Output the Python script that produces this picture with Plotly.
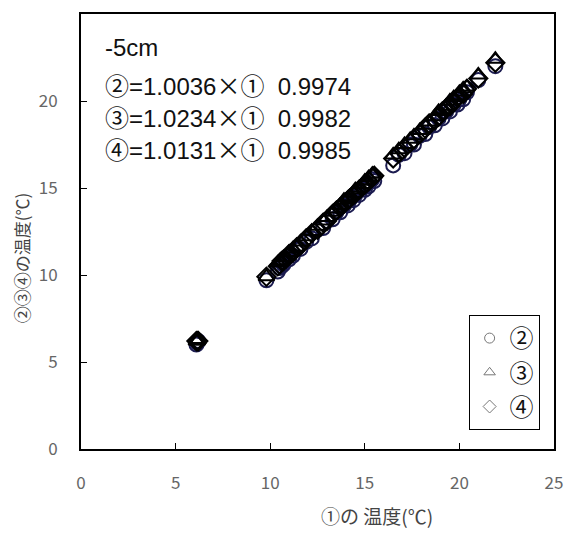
import plotly.graph_objects as go

# ① temperature (x) and ②③④ temperatures (y)
t1 = [6.1, 6.2, 6.15, 9.8, 10.4, 10.5, 10.6, 10.7, 10.8, 11.0, 11.2, 11.4, 11.6, 11.9, 12.2, 12.5,
      12.8, 13.0, 13.3, 13.5, 13.7, 13.9, 14.1, 14.2, 14.4, 14.5, 14.7, 14.9, 15.0, 15.1, 15.2, 15.4,
      15.5, 16.5, 16.8, 17.1, 17.4, 17.6, 17.9, 18.2, 18.4, 18.7, 18.9, 19.1, 19.3, 19.5, 19.7, 19.9,
      20.0, 20.2, 20.4, 21.0, 21.9]
t2 = [6.0, 6.2, 6.1, 9.7, 10.2, 10.4, 10.5, 10.6, 10.9, 10.9, 11.1, 11.5, 11.5, 11.9, 12.1, 12.6,
      12.7, 13.1, 13.2, 13.6, 13.6, 14.0, 14.0, 14.3, 14.3, 14.6, 14.6, 15.0, 14.9, 15.2, 15.1, 15.5,
      15.4, 16.3, 16.9, 17.0, 17.5, 17.5, 18.0, 18.1, 18.5, 18.6, 19.0, 19.0, 19.4, 19.4, 19.8, 19.8,
      20.1, 20.1, 20.5, 21.2, 22.0]
t3 = [6.2, 6.3, 6.2, 9.9, 10.7, 10.8, 10.8, 11.0, 11.0, 11.3, 11.5, 11.6, 11.9, 12.2, 12.5, 12.8,
      13.1, 13.3, 13.6, 13.8, 14.0, 14.3, 14.4, 14.5, 14.7, 14.9, 15.0, 15.2, 15.4, 15.4, 15.6, 15.8,
      15.8, 16.9, 17.2, 17.5, 17.8, 18.0, 18.3, 18.6, 18.8, 19.1, 19.4, 19.5, 19.7, 20.0, 20.2, 20.3,
      20.5, 20.7, 20.8, 21.5, 22.4]
t4 = [6.2, 6.2, 6.2, 9.9, 10.5, 10.6, 10.8, 10.8, 10.9, 11.2, 11.3, 11.6, 11.7, 12.1, 12.4, 12.6,
      13.0, 13.1, 13.5, 13.7, 13.9, 14.1, 14.3, 14.4, 14.6, 14.7, 14.9, 15.1, 15.2, 15.3, 15.4, 15.6,
      15.7, 16.7, 17.0, 17.3, 17.6, 17.8, 18.1, 18.4, 18.7, 18.9, 19.1, 19.4, 19.6, 19.7, 20.0, 20.2,
      20.3, 20.4, 20.7, 21.3, 22.2]

series_names = ["②", "③", "④"]
series_symbols = ["circle-open", "triangle-up-open", "diamond-open"]
series_colors = ["#1c1c50", "#000000", "#000000"]
series_values = [t2, t3, t4]

text_lines = ["-5cm", "②=1.0036×①  0.9974", "③=1.0234×①  0.9982", "④=1.0131×①  0.9985"]
ticks = [0, 5, 10, 15, 20, 25]

FONT = "Noto Sans CJK JP"
TEXTFONT = "Liberation Sans, Noto Sans CJK JP"

fig = go.Figure()
for name, sym, col, vals in zip(series_names, series_symbols, series_colors, series_values):
    fig.add_trace(go.Scatter(x=t1, y=vals, mode="markers", showlegend=False,
                             marker=dict(symbol=sym, size=14, color=col, line=dict(width=2, color=col))))
for name, sym in zip(series_names, series_symbols):
    fig.add_trace(go.Scatter(x=[None], y=[None], mode="markers", name=name,
                             marker=dict(symbol=sym, size=10, color="#777777", line=dict(width=1, color="#777777"))))

axis_common = dict(range=[0, 25], tickvals=ticks, showline=True, mirror=True, linecolor="black",
                   linewidth=2, ticks="inside", ticklen=6, tickcolor="black", showgrid=False,
                   zeroline=False, tickfont=dict(family=FONT, size=17, color="#666666"),
                   ticklabelstandoff=18)
fig.update_xaxes(**axis_common)
fig.update_yaxes(**axis_common)

ypos = [47, 85, 117, 148]
for txt, yp in zip(text_lines, ypos):
    shown = txt.replace("×", "<span style='font-family:Noto Sans CJK JP'>×</span>")
    fig.add_annotation(text=shown, xref="paper", yref="paper", x=(103 - 81) / 482, y=(449 - yp) / 435,
                       xanchor="left", yanchor="middle", showarrow=False,
                       font=dict(family=TEXTFONT, size=24, color="#111111"))

fig.add_annotation(text="①の 温度(℃)", xref="paper", yref="paper", x=(383 - 81) / 482, y=(449 - 515) / 435,
                   xanchor="center", yanchor="middle", showarrow=False,
                   font=dict(family=FONT, size=19, color="#444444"))
fig.add_annotation(text="②③④の温度(℃)", xref="paper", yref="paper", x=(20 - 81) / 482, y=(449 - 258) / 435,
                   xanchor="center", yanchor="middle", showarrow=False, textangle=-90,
                   font=dict(family=FONT, size=17, color="#444444"))

fig.update_layout(
    width=574, height=534,
    margin=dict(l=81, r=11, t=14, b=85),
    plot_bgcolor="white", paper_bgcolor="white",
    legend=dict(x=(476 - 81) / 482, y=(449 - 315) / 435, xanchor="left", yanchor="top",
                bordercolor="black", borderwidth=1, bgcolor="white",
                font=dict(family=FONT, size=24, color="#111111"), itemwidth=30),
)
fig.write_html("out.html", config={"displayModeBar": False},
               post_script="document.body.style.margin='0';")
